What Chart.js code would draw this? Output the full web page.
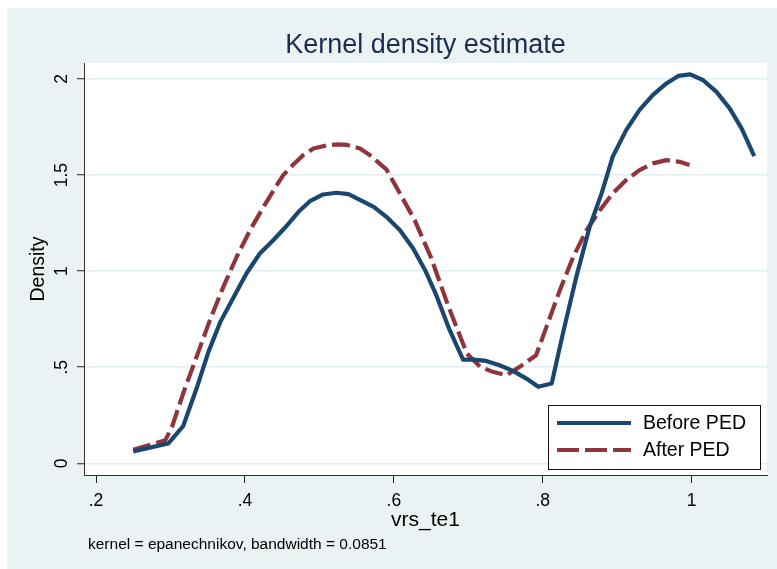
<!DOCTYPE html>
<html>
<head>
<meta charset="utf-8">
<script src="https://cdn.jsdelivr.net/npm/chart.js@4.4.1/dist/chart.umd.min.js"></script>
<style>
html,body{margin:0;padding:0;background:#fff;}
canvas{display:block;}
</style>
</head>
<body>
<canvas id="c" width="777" height="569" style="width:777px;height:569px"></canvas>
<script>
// ---- data ----
const seriesNames = ['Before PED', 'After PED'];

const xBefore = [0.250,0.297,0.317,0.335,0.351,0.367,0.385,0.402,0.420,0.438,0.454,0.472,0.488,0.505,0.523,0.539,0.555,0.573,0.590,0.608,0.626,0.642,0.657,0.675,0.693,0.707,0.724,0.742,0.760,0.778,0.794,0.812,0.827,0.845,0.863,0.879,0.894,0.912,0.930,0.948,0.966,0.982,0.998,1.015,1.033,1.051,1.067,1.084];
const yBefore = [0.062,0.103,0.193,0.389,0.580,0.736,0.866,0.988,1.092,1.161,1.227,1.309,1.366,1.399,1.408,1.401,1.370,1.335,1.283,1.214,1.118,1.005,0.875,0.693,0.540,0.540,0.533,0.510,0.481,0.441,0.398,0.415,0.675,0.970,1.231,1.405,1.596,1.734,1.839,1.917,1.977,2.016,2.024,1.995,1.934,1.847,1.743,1.599];

const xAfter = [0.250,0.293,0.302,0.317,0.335,0.353,0.371,0.389,0.407,0.425,0.440,0.4515,0.465,0.4785,0.492,0.510,0.525,0.537,0.5546,0.568,0.581,0.590,0.608,0.628,0.650,0.672,0.698,0.716,0.733,0.751,0.769,0.791,0.805,0.823,0.841,0.859,0.877,0.894,0.912,0.930,0.948,0.966,0.984,0.997];
const yAfter = [0.070,0.120,0.189,0.363,0.554,0.745,0.918,1.075,1.214,1.335,1.430,1.500,1.555,1.605,1.638,1.655,1.660,1.657,1.638,1.603,1.560,1.530,1.405,1.266,1.070,0.830,0.571,0.502,0.476,0.458,0.502,0.5625,0.710,0.901,1.075,1.214,1.318,1.405,1.474,1.526,1.561,1.578,1.569,1.552];

const xTickValues = [0.2, 0.4, 0.6, 0.8, 1];
const xTickLabels = ['.2', '.4', '.6', '.8', '1'];
const yTickValues = [0, 0.5, 1, 1.5, 2];
const yTickLabels = ['0', '.5', '1', '1.5', '2'];

const titleText = 'Kernel density estimate';
const xTitleText = 'vrs_te1';
const yTitleText = 'Density';
const noteText = 'kernel = epanechnikov, bandwidth = 0.0851';

// ---- styling ----
const FONT = "'Liberation Sans', Arial, sans-serif";
const NAVY = '#1A476F';
const MAROON = '#90353B';
const BG = '#EAF2F3';

const toPoints = (xs, ys) => xs.map((x, i) => ({x: x, y: ys[i]}));

const backgroundPlugin = {
  id: 'bg',
  beforeDraw(chart) {
    const {ctx, chartArea: a, width, height} = chart;
    ctx.save();
    ctx.fillStyle = '#ffffff';
    ctx.fillRect(0, 0, width, height);
    ctx.fillStyle = BG;
    ctx.fillRect(7, 8, width - 7, height - 8);
    ctx.fillStyle = '#ffffff';
    ctx.fillRect(a.left, a.top, a.right - a.left, a.bottom - a.top);
    ctx.restore();
  }
};

const yLabelPlugin = {
  id: 'yRotLabels',
  afterDraw(chart) {
    const {ctx} = chart;
    const ys = chart.scales.y;
    ctx.save();
    ctx.fillStyle = '#000';
    ctx.font = `17.5px ${FONT}`;
    ctx.textAlign = 'center';
    ctx.textBaseline = 'middle';
    yTickValues.forEach((v, i) => {
      const py = ys.getPixelForValue(v);
      ctx.save();
      ctx.translate(62, py);
      ctx.rotate(-Math.PI / 2);
      ctx.fillText(yTickLabels[i], 0, 0);
      ctx.restore();
    });
    ctx.restore();
  }
};

const legendPlugin = {
  id: 'boxLegend',
  afterDatasetsDraw(chart) {
    const {ctx} = chart;
    const bx = 548, by = 405, bw = 212, bh = 64;
    ctx.save();
    ctx.fillStyle = '#fff';
    ctx.fillRect(bx, by, bw, bh);
    ctx.strokeStyle = '#111';
    ctx.lineWidth = 1;
    ctx.strokeRect(bx + 0.5, by + 0.5, bw, bh);
    const rows = [423, 450];
    chart.data.datasets.forEach((ds, i) => {
      const y = rows[i];
      ctx.beginPath();
      ctx.strokeStyle = ds.borderColor;
      ctx.lineWidth = 4;
      ctx.lineCap = 'butt';
      ctx.setLineDash(i === 1 ? [22, 6] : []);
      ctx.moveTo(557, y);
      ctx.lineTo(631, y);
      ctx.stroke();
      ctx.setLineDash([]);
      ctx.fillStyle = '#000';
      ctx.font = `19.5px ${FONT}`;
      ctx.textAlign = 'left';
      ctx.textBaseline = 'middle';
      ctx.fillText(ds.label, 643, y + 1);
    });
    ctx.restore();
  }
};

const notePlugin = {
  id: 'note',
  afterDraw(chart) {
    const {ctx} = chart;
    ctx.save();
    ctx.fillStyle = '#000';
    ctx.font = `15.5px ${FONT}`;
    ctx.textAlign = 'left';
    ctx.textBaseline = 'middle';
    ctx.fillText(noteText, 88, 545);
    ctx.restore();
  }
};

new Chart(document.getElementById('c'), {
  type: 'scatter',
  data: {
    datasets: [
      {
        label: seriesNames[0],
        data: toPoints(xBefore, yBefore),
        showLine: true,
        borderColor: NAVY,
        backgroundColor: NAVY,
        borderWidth: 4.2,
        pointRadius: 0,
        tension: 0,
        borderJoinStyle: 'round',
        fill: false
      },
      {
        label: seriesNames[1],
        data: toPoints(xAfter, yAfter),
        showLine: true,
        borderColor: MAROON,
        backgroundColor: MAROON,
        borderWidth: 4.2,
        borderDash: [18, 6],
        pointRadius: 0,
        tension: 0,
        borderJoinStyle: 'round',
        fill: false
      }
    ]
  },
  options: {
    responsive: false,
    animation: false,
    devicePixelRatio: 1,
    layout: {padding: {left: 0, right: 10, top: 0, bottom: 0}},
    plugins: {
      legend: {display: false},
      tooltip: {enabled: false},
      title: {
        display: true,
        text: titleText,
        fullSize: false,
        color: '#1C2E4F',
        font: {family: FONT, size: 27, weight: 'normal'},
        padding: {top: 29, bottom: 1.6}
      }
    },
    scales: {
      x: {
        type: 'linear',
        min: 0.18388,
        max: 1.10115,
        afterBuildTicks: s => { s.ticks = xTickValues.map(v => ({value: v})); },
        afterFit: s => { s.height = 94; },
        ticks: {
          callback: (v, i) => xTickLabels[i],
          color: '#000',
          font: {family: FONT, size: 17.5},
          padding: 7.5,
          maxRotation: 0,
          autoSkip: false
        },
        grid: {drawOnChartArea: false, drawTicks: true, tickLength: 8, tickColor: '#222', tickWidth: 1},
        border: {display: true, color: '#333', width: 1},
        title: {
          display: true,
          text: xTitleText,
          color: '#000',
          font: {family: FONT, size: 21},
          padding: {top: 0, bottom: 36}
        }
      },
      y: {
        type: 'linear',
        min: -0.0609,
        max: 2.0833,
        afterBuildTicks: s => { s.ticks = yTickValues.map(v => ({value: v})); },
        afterFit: s => { s.width = 84; },
        ticks: {display: false},
        grid: {color: '#E3ECEF', lineWidth: 1.5, drawTicks: true, tickLength: 7, tickColor: '#222', tickWidth: 1},
        border: {display: true, color: '#333', width: 1},
        title: {
          display: true,
          text: yTitleText,
          color: '#000',
          font: {family: FONT, size: 19.5},
          padding: {top: 27, bottom: 0}
        }
      }
    }
  },
  plugins: [backgroundPlugin, yLabelPlugin, legendPlugin, notePlugin]
});
</script>
</body>
</html>
